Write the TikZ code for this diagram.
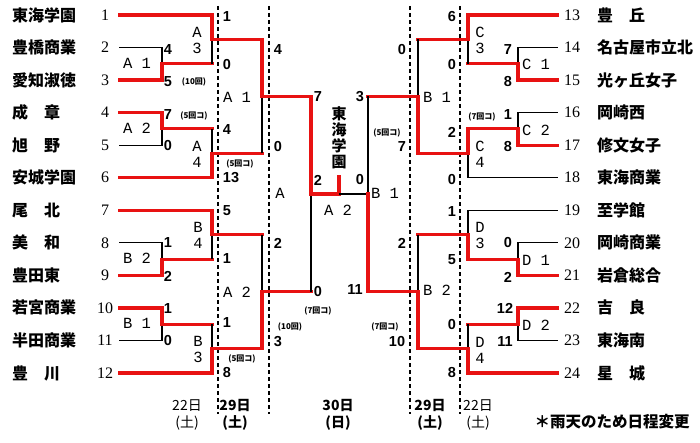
\documentclass[tikz,border=0pt]{standalone}
\usepackage{fontspec}
\setmainfont{Liberation Serif}
\newfontfamily\jp{Noto Sans CJK JP}
\newfontfamily\lblfont{Liberation Mono}
\newfontfamily\scorefont{Liberation Sans}
\definecolor{brk}{RGB}{232,18,18}

\begin{document}
\begin{tikzpicture}[x=1pt, y=-1pt,
    win/.style={draw=brk, line width=3.2pt, line cap=rect},
    lose/.style={draw=black, line width=1.1pt},
    dayline/.style={draw=black, line width=1.1pt, dash pattern=on 4pt off 3pt},
    school/.style={anchor=west, inner sep=0pt, font=\jp\bfseries\fontsize{16}{16}\selectfont},
    seed/.style={inner sep=0pt, minimum width=28pt, font=\fontsize{16}{16}\selectfont},
    score/.style={inner sep=0pt, font=\scorefont\bfseries\fontsize{14.5}{14.5}\selectfont},
    game/.style={inner sep=0pt, align=center, font=\lblfont\fontsize{15.5}{16}\selectfont},
    note/.style={inner sep=0pt, font=\jp\bfseries\fontsize{8}{8}\selectfont},
    day/.style={inner sep=0pt, align=center, font=\jp\fontsize{14}{17}\selectfont},
    bigday/.style={inner sep=0pt, align=center, font=\jp\bfseries\fontsize{14}{17}\selectfont}]
    \useasboundingbox (0,0) rectangle (700,443);

    \draw[dayline] (218,6) -- (218,414);
    \draw[dayline] (269,6) -- (269,414);
    \draw[dayline] (410,6) -- (410,414);
    \draw[dayline] (460,6) -- (460,414);

    \node[school] (k1) at (12,15) {東海学園};
    \node[school] (k2) at (12,47.5) {豊橋商業};
    \node[school] (k3) at (12,80.1) {愛知淑徳};
    \node[school] (k4) at (12,112.6) {成　章};
    \node[school] (k5) at (12,145.2) {旭　野};
    \node[school] (k6) at (12,177.7) {安城学園};
    \node[school] (k7) at (12,210.3) {尾　北};
    \node[school] (k8) at (12,242.8) {美　和};
    \node[school] (k9) at (12,275.4) {豊田東};
    \node[school] (k10) at (12,307.9) {若宮商業};
    \node[school] (k11) at (12,340.5) {半田商業};
    \node[school] (k12) at (12,373) {豊　川};

    \node[school] (k13) at (597,15) {豊　丘};
    \node[school] (k14) at (597,47.5) {名古屋市立北};
    \node[school] (k15) at (597,80.1) {光ヶ丘女子};
    \node[school] (k16) at (597,112.6) {岡崎西};
    \node[school] (k17) at (597,145.2) {修文女子};
    \node[school] (k18) at (597,177.7) {東海商業};
    \node[school] (k19) at (597,210.3) {至学館};
    \node[school] (k20) at (597,242.8) {岡崎商業};
    \node[school] (k21) at (597,275.4) {岩倉総合};
    \node[school] (k22) at (597,307.9) {吉　良};
    \node[school] (k23) at (597,340.5) {東海南};
    \node[school] (k24) at (597,373) {星　城};

    \node[seed] (n1) at (105,15) {1};
    \node[seed] (n2) at (105,47.5) {2};
    \node[seed] (n3) at (105,80.1) {3};
    \node[seed] (n4) at (105,112.6) {4};
    \node[seed] (n5) at (105,145.2) {5};
    \node[seed] (n6) at (105,177.7) {6};
    \node[seed] (n7) at (105,210.3) {7};
    \node[seed] (n8) at (105,242.8) {8};
    \node[seed] (n9) at (105,275.4) {9};
    \node[seed] (n10) at (105,307.9) {10};
    \node[seed] (n11) at (105,340.5) {11};
    \node[seed] (n12) at (105,373) {12};

    \node[seed] (n13) at (572,15) {13};
    \node[seed] (n14) at (572,47.5) {14};
    \node[seed] (n15) at (572,80.1) {15};
    \node[seed] (n16) at (572,112.6) {16};
    \node[seed] (n17) at (572,145.2) {17};
    \node[seed] (n18) at (572,177.7) {18};
    \node[seed] (n19) at (572,210.3) {19};
    \node[seed] (n20) at (572,242.8) {20};
    \node[seed] (n21) at (572,275.4) {21};
    \node[seed] (n22) at (572,307.9) {22};
    \node[seed] (n23) at (572,340.5) {23};
    \node[seed] (n24) at (572,373) {24};

    \coordinate (a1) at (162,63.8);
    \coordinate (a2) at (162,128.9);
    \coordinate (b2) at (162,259.1);
    \coordinate (b1) at (162,324.2);
    \coordinate (a3) at (212,39.4);
    \coordinate (a4) at (212,153.3);
    \coordinate (b4) at (212,234.7);
    \coordinate (b3) at (212,348.6);
    \coordinate (la1) at (262,96.4);
    \coordinate (la2) at (262,291.6);
    \coordinate (sa) at (311,194);
    \coordinate (fin) at (339,194);
    \coordinate (top) at (339,177);
    \coordinate (sb) at (368,194);
    \coordinate (rb1) at (418,96.4);
    \coordinate (rb2) at (418,291.6);
    \coordinate (c3) at (468,39.4);
    \coordinate (c4) at (468,153.3);
    \coordinate (d3) at (468,234.7);
    \coordinate (d4) at (468,348.6);
    \coordinate (c1) at (518,63.8);
    \coordinate (c2) at (518,128.9);
    \coordinate (d1) at (518,259.1);
    \coordinate (d2) at (518,324.2);

    \draw[win] (n1.east) -| (a3);
    \draw[lose] (n2.east) -| (a1);
    \draw[win] (n3.east) -| (a1);
    \draw[win] (a1) -- (a1 -| a3);
    \draw[lose] (a1 -| a3) -- (a3);
    \draw[win] (n4.east) -| (a2);
    \draw[lose] (n5.east) -| (a2);
    \draw[win] (a2) -- (a2 -| a4);
    \draw[lose] (a2 -| a4) -- (a4);
    \draw[win] (n6.east) -| (a4);
    \draw[win] (a3) -| (la1);
    \draw[win] (a4) -- (a4 -| la1);
    \draw[lose] (a4 -| la1) -- (la1);

    \draw[win] (n7.east) -| (b4);
    \draw[lose] (n8.east) -| (b2);
    \draw[win] (n9.east) -| (b2);
    \draw[win] (b2) -- (b2 -| b4);
    \draw[lose] (b2 -| b4) -- (b4);
    \draw[win] (n10.east) -| (b1);
    \draw[lose] (n11.east) -| (b1);
    \draw[win] (b1) -- (b1 -| b3);
    \draw[lose] (b1 -| b3) -- (b3);
    \draw[win] (n12.east) -| (b3);
    \draw[win] (b4) -- (b4 -| la2);
    \draw[lose] (b4 -| la2) -- (la2);
    \draw[win] (b3) -| (la2);

    \draw[win] (la1) -| (sa);
    \draw[win] (la2) -- (la2 -| sa);
    \draw[lose] (la2 -| sa) -- (sa);
    \draw[win] (sa) -- (fin) -- (top);
    \draw[lose] (fin) -- (sb);

    \draw[win] (n13.west) -| (c3);
    \draw[lose] (n14.west) -| (c1);
    \draw[win] (n15.west) -| (c1);
    \draw[win] (c1) -- (c1 -| c3);
    \draw[lose] (c1 -| c3) -- (c3);
    \draw[lose] (n16.west) -| (c2);
    \draw[win] (n17.west) -| (c2);
    \draw[win] (c2) -| (c4);
    \draw[lose] (n18.west) -| (c4);
    \draw[win] (c3) -- (c3 -| rb1);
    \draw[lose] (c3 -| rb1) -- (rb1);
    \draw[win] (c4) -| (rb1);

    \draw[lose] (n19.west) -| (d3);
    \draw[lose] (n20.west) -| (d1);
    \draw[win] (n21.west) -| (d1);
    \draw[win] (d1) -| (d3);
    \draw[win] (n22.west) -| (d2);
    \draw[lose] (n23.west) -| (d2);
    \draw[win] (d2) -- (d2 -| d4);
    \draw[lose] (d2 -| d4) -- (d4);
    \draw[win] (n24.west) -| (d4);
    \draw[win] (d3) -- (d3 -| rb2);
    \draw[lose] (d3 -| rb2) -- (rb2);
    \draw[win] (d4) -| (rb2);

    \draw[win] (rb1) -- (rb1 -| sb);
    \draw[lose] (rb1 -| sb) -- (sb);
    \draw[win] (rb2) -| (sb);

    \node[score] (p1) at (168,50) {4};
    \node[score] (p2) at (168,82) {5};
    \node[score] (p3) at (168,115) {7};
    \node[score] (p4) at (168,146) {0};
    \node[score] (p5) at (168,243) {1};
    \node[score] (p6) at (168,276) {2};
    \node[score] (p7) at (168,309) {1};
    \node[score] (p8) at (168,341) {0};
    \node[score] (p9) at (227,17) {1};
    \node[score] (p10) at (227,65) {0};
    \node[score] (p11) at (227,130) {4};
    \node[score] (p12) at (231,178) {13};
    \node[score] (p13) at (227,211) {5};
    \node[score] (p14) at (227,259) {1};
    \node[score] (p15) at (227,323) {1};
    \node[score] (p16) at (227,373) {8};
    \node[score] (p17) at (278,50) {4};
    \node[score] (p18) at (278,147) {0};
    \node[score] (p19) at (278,243) {2};
    \node[score] (p20) at (278,342) {3};
    \node[score] (p21) at (318,97) {7};
    \node[score] (p22) at (318,292) {0};
    \node[score] (p23) at (318,180) {2};
    \node[score] (p24) at (360,180) {0};
    \node[score] (p25) at (360,97) {3};
    \node[score] (p26) at (355,290) {11};
    \node[score] (p27) at (402,50) {0};
    \node[score] (p28) at (402,147) {7};
    \node[score] (p29) at (402,243) {2};
    \node[score] (p30) at (397,342) {10};
    \node[score] (p31) at (452,17) {6};
    \node[score] (p32) at (452,65) {0};
    \node[score] (p33) at (452,132) {2};
    \node[score] (p34) at (452,180) {0};
    \node[score] (p35) at (452,212) {1};
    \node[score] (p36) at (452,260) {5};
    \node[score] (p37) at (452,325) {0};
    \node[score] (p38) at (452,373) {8};
    \node[score] (p39) at (508,50) {7};
    \node[score] (p40) at (508,82) {8};
    \node[score] (p41) at (508,115) {1};
    \node[score] (p42) at (508,147) {8};
    \node[score] (p43) at (508,243) {0};
    \node[score] (p44) at (508,277) {2};
    \node[score] (p45) at (505,308) {12};
    \node[score] (p46) at (505,342) {11};

    \node[game] (g1) at (137,63) {A 1};
    \node[game] (g2) at (137,128) {A 2};
    \node[game] (g3) at (137,258) {B 2};
    \node[game] (g4) at (137,323) {B 1};
    \node[game] (g5) at (197,40) {A\\3};
    \node[game] (g6) at (197,154) {A\\4};
    \node[game] (g7) at (198,235) {B\\4};
    \node[game] (g8) at (198,349) {B\\3};
    \node[game] (g9) at (237,97) {A 1};
    \node[game] (g10) at (237,292) {A 2};
    \node[game] (g11) at (280,193) {A};
    \node[game] (g12) at (338,210) {A 2};
    \node[game] (g13) at (385,193) {B 1};
    \node[game] (g14) at (437,97) {B 1};
    \node[game] (g15) at (437,290) {B 2};
    \node[game] (g16) at (480,40) {C\\3};
    \node[game] (g17) at (480,154) {C\\4};
    \node[game] (g18) at (480,235) {D\\3};
    \node[game] (g19) at (480,350) {D\\4};
    \node[game] (g20) at (536,64) {C 1};
    \node[game] (g21) at (536,130) {C 2};
    \node[game] (g22) at (536,260) {D 1};
    \node[game] (g23) at (536,325) {D 2};

    \node[note] (r1) at (194,82) {(10回)};
    \node[note] (r2) at (194,116) {(5回コ)};
    \node[note] (r3) at (240,164) {(5回コ)};
    \node[note] (r4) at (242,359) {(5回コ)};
    \node[note] (r5) at (290,327) {(10回)};
    \node[note] (r6) at (318,311) {(7回コ)};
    \node[note] (r7) at (385,327) {(7回コ)};
    \node[note] (r8) at (387,133) {(5回コ)};
    \node[note] (r9) at (482,117) {(7回コ)};

    \node[inner sep=0pt, align=center, font=\jp\bfseries\fontsize{15}{16}\selectfont] (champ) at (339,138) {東\\海\\学\\園};

    \node[day] (w1) at (187,415) {22日\\(土)};
    \node[bigday] (w2) at (235,415) {29日\\(土)};
    \node[bigday] (w3) at (338,415) {30日\\(日)};
    \node[bigday] (w4) at (430,415) {29日\\(土)};
    \node[day] (w5) at (478,415) {22日\\(土)};
    \node[inner sep=0pt, font=\jp\bfseries\fontsize{15.5}{16}\selectfont] (memo) at (612,422) {＊雨天のため日程変更};
\end{tikzpicture}
\end{document}
